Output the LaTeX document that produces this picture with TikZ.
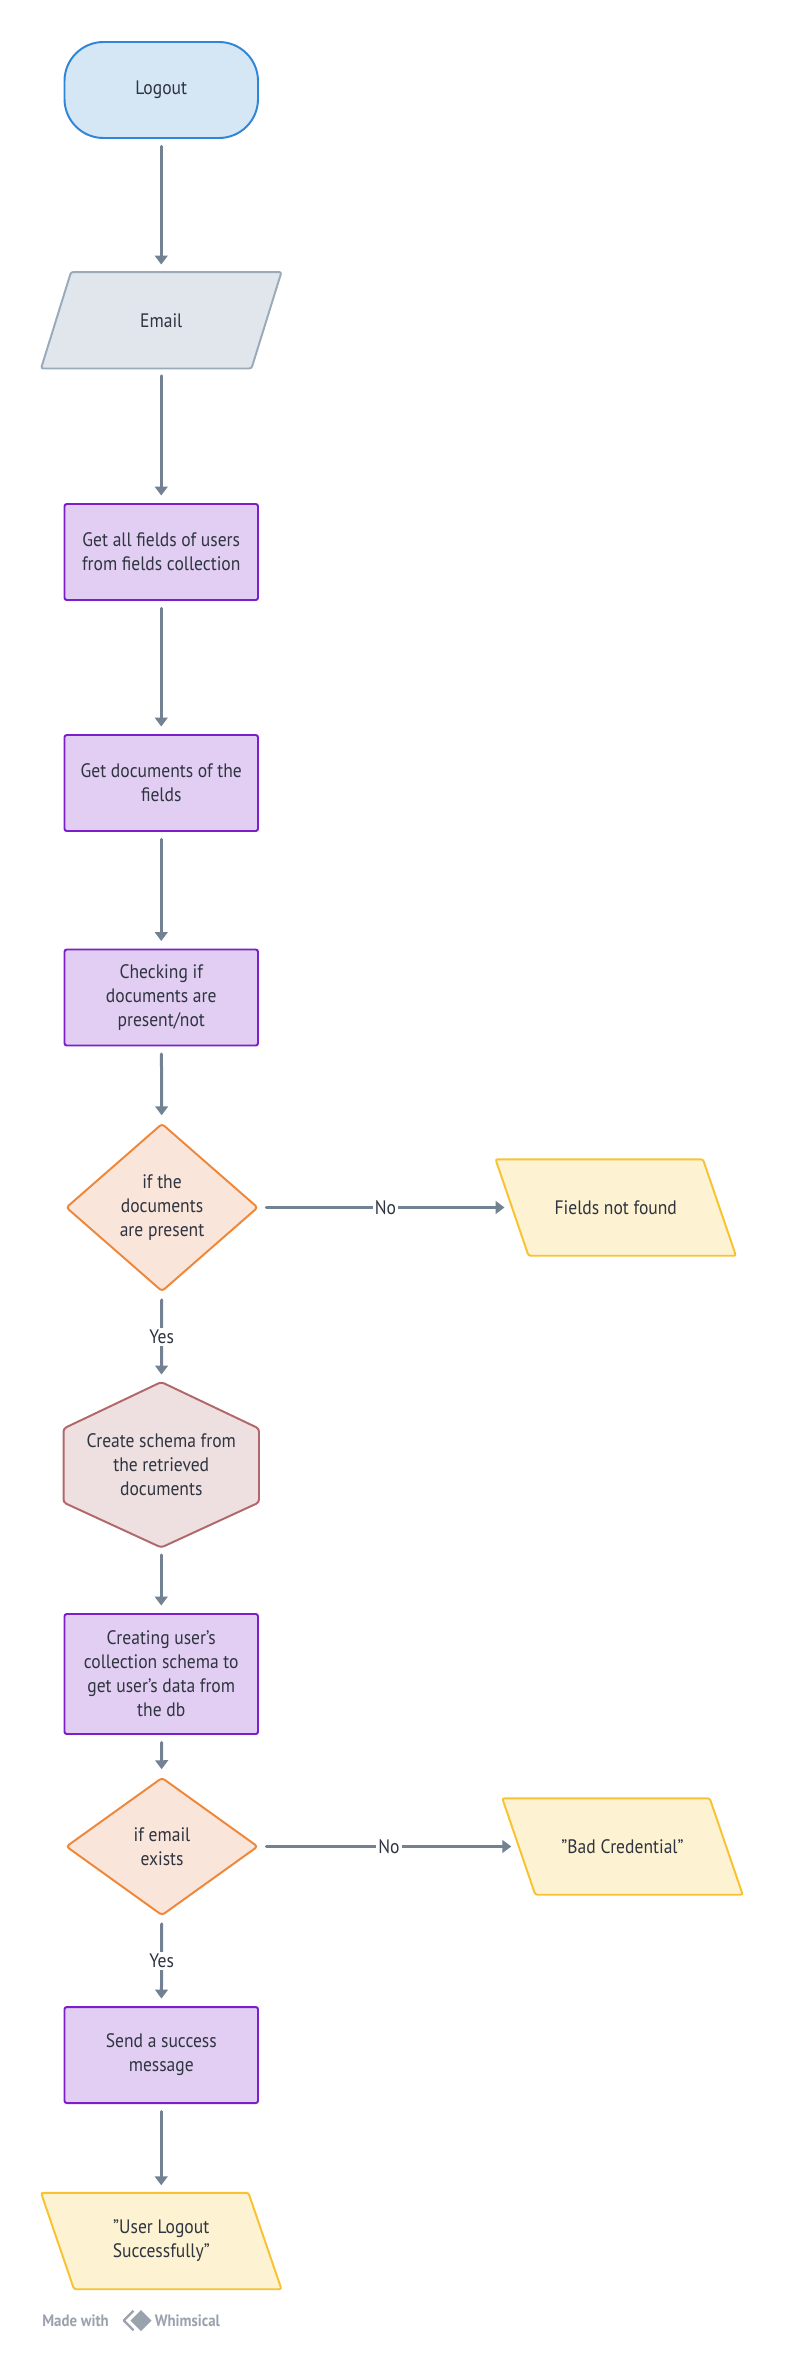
\documentclass[tikz,border=0pt]{standalone}
\usepackage{fontspec}
\setmainfont{PT Sans}[FakeStretch=0.9]
\usetikzlibrary{shapes.geometric,arrows.meta,backgrounds,calc}
\definecolor{termfill}{HTML}{D5E6F5}
\definecolor{termdraw}{HTML}{2F86D8}
\definecolor{emfill}{HTML}{E1E6ED}
\definecolor{emdraw}{HTML}{9AAAB9}
\definecolor{procfill}{HTML}{E2CEF3}
\definecolor{procdraw}{HTML}{7A1FCB}
\definecolor{decfill}{HTML}{F9E5D9}
\definecolor{decdraw}{HTML}{EE8739}
\definecolor{hexfill}{HTML}{EEDFE0}
\definecolor{hexdraw}{HTML}{B0686A}
\definecolor{yelfill}{HTML}{FDF2D1}
\definecolor{yeldraw}{HTML}{F8C230}
\definecolor{arrowc}{HTML}{738293}
\definecolor{textc}{HTML}{2E3440}
\definecolor{footc}{HTML}{9AA3AD}
\tikzset{
  base/.style={align=center, text=textc, font=\fontsize{13}{16}\selectfont, inner sep=0pt, line width=1.3pt},
  term/.style={base, rectangle, rounded corners=26pt, minimum width=129pt, minimum height=64pt, fill=termfill, draw=termdraw},
  proc/.style={base, rectangle, rounded corners=1.5pt, minimum width=129pt, minimum height=64pt, fill=procfill, draw=procdraw},
  dec/.style={base, diamond, rounded corners=2pt, minimum width=128pt, fill=decfill, draw=decdraw},
  para/.style={base, rectangle, minimum width=159pt, minimum height=63pt},
  hexn/.style={base, rectangle, minimum width=129pt, minimum height=109pt},
  emshape/.style={line width=1.3pt, fill=emfill, draw=emdraw, rounded corners=1.5pt},
  yelshape/.style={line width=1.3pt, fill=yelfill, draw=yeldraw, rounded corners=1.5pt},
  hexshape/.style={line width=1.3pt, fill=hexfill, draw=hexdraw, rounded corners=2pt},
  conn/.style={draw=arrowc, line width=2pt, line cap=round, -{Triangle[length=6pt,width=8.5pt]}, shorten <=5pt, shorten >=5pt},
  lbl/.style={fill=white, text=textc, font=\fontsize{13}{16}\selectfont, inner sep=1.5pt},
  foot/.style={text=footc, font=\fontsize{11}{12}\selectfont\bfseries, inner sep=0pt}
}
\begin{document}
\begin{tikzpicture}[x=1pt,y=-1pt]
\useasboundingbox (0,0) rectangle (524,1574);
\node[term] (logout) at (107.5,60) {Logout};
\node[para] (email) at (107.5,213.5) {Email};
\node[proc] (b1) at (107.5,368) {Get all fields of users\\from fields collection};
\node[proc] (b2) at (107.5,522) {Get documents of the\\fields};
\node[proc] (b3) at (107.5,665) {Checking if\\documents are\\present/not};
\node[dec, minimum height=112pt] (d1) at (108,805) {if the\\documents\\are present};
\node[para] (fnf) at (410.5,805) {Fields not found};
\node[hexn] (hex) at (107.5,976.5) {Create schema from\\the retrieved\\documents};
\node[proc, minimum height=80pt] (b4) at (107.5,1116) {Creating user’s\\collection schema to\\get user’s data from\\the db};
\node[dec, minimum height=92pt] (d2) at (108,1231) {if email\\exists};
\node[para] (bad) at (415,1231) {"Bad Credential"};
\node[proc] (b5) at (107.5,1370) {Send a success\\message};
\node[para] (ulo) at (107.5,1494) {"User Logout\\Successfully"};
\begin{scope}[on background layer]
\fill[white] (0,0) rectangle (524,1574);
\draw[emshape] ($(email.north west)+(20,0)$) -- (email.north east) -- ($(email.south east)+(-20,0)$) -- (email.south west) -- cycle;
\draw[yelshape] (fnf.north west) -- ($(fnf.north east)+(-22,0)$) -- (fnf.south east) -- ($(fnf.south west)+(22,0)$) -- cycle;
\draw[yelshape] (bad.north west) -- ($(bad.north east)+(-22,0)$) -- (bad.south east) -- ($(bad.south west)+(22,0)$) -- cycle;
\draw[yelshape] (ulo.north west) -- ($(ulo.north east)+(-22,0)$) -- (ulo.south east) -- ($(ulo.south west)+(22,0)$) -- cycle;
\draw[hexshape] (hex.north) -- ($(hex.north east)+(0,31)$) -- ($(hex.south east)+(0,-30)$) -- (hex.south) -- ($(hex.south west)+(0,-30)$) -- ($(hex.north west)+(0,31)$) -- cycle;
\end{scope}
\draw[conn] (logout) -- (email);
\draw[conn] (email) -- (b1);
\draw[conn] (b1) -- (b2);
\draw[conn] (b2) -- (b3);
\draw[conn] (b3) -- (d1);
\draw[conn] (d1) -- node[lbl] {No} ($(fnf.west)+(11,0)$);
\draw[conn] (d1) -- node[lbl] {Yes} (hex);
\draw[conn] (hex) -- (b4);
\draw[conn] (b4) -- (d2);
\draw[conn] (d2) -- node[lbl] {No} ($(bad.west)+(11,0)$);
\draw[conn] (d2) -- node[lbl] {Yes} (b5);
\draw[conn] (b5) -- (ulo);
\node[foot, anchor=west] (made) at (28,1547) {Made with};
\coordinate (logo) at (92,1547);
\draw[footc, line width=1.6pt, line join=round] ($(logo)+(-3,-6.5)$) -- ($(logo)+(-9.5,0)$) -- ($(logo)+(-3,6.5)$);
\fill[footc] ($(logo)+(2,-7)$) -- ($(logo)+(9,0)$) -- ($(logo)+(2,7)$) -- ($(logo)+(-5,0)$) -- cycle;
\node[foot, anchor=west] (whim) at (103,1547) {Whimsical};
\end{tikzpicture}
\end{document}
